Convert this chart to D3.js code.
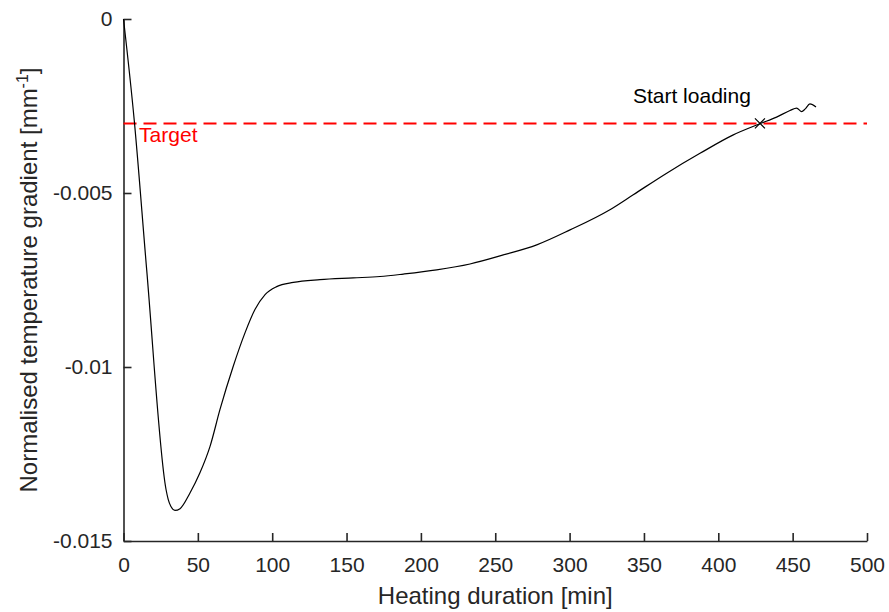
<!DOCTYPE html>
<html>
<head>
<meta charset="utf-8">
<script src="https://cdn.jsdelivr.net/npm/d3@7"></script>
<style>
    body { margin: 0; background: #fff; }
    svg { display: block; font-family: "Liberation Sans", Arial, Helvetica, sans-serif; }
</style>
</head>
<body>
<div id="chart"></div>
<script>
// heating curve
const durations = [
    0, 7.2, 15.6, 28.6, 30.1, 31.9, 34.6, 38.0, 44.7, 51.4, 58.2, 64.9,
    73.8, 81.7, 88.4, 95.2, 103.0, 114.2, 132.1, 154.5, 172.5, 188.2, 210.6,
    233.0, 255.4, 277.9, 300.3, 327.1, 342.8, 365.3, 387.7, 410.1, 428.0,
    439.2, 448.2, 452.7, 456.1, 458.3, 461.6, 465.7
];
const gradients = [
    0, -0.00290, -0.00721, -0.01352, -0.01381, -0.01401, -0.01412, -0.01407,
    -0.01362, -0.01304, -0.01228, -0.01122, -0.00998, -0.00902, -0.00835,
    -0.00792, -0.00769, -0.00757, -0.00749, -0.00744, -0.00740, -0.00733,
    -0.00721, -0.00704, -0.00678, -0.00649, -0.00606, -0.00548, -0.00505,
    -0.00443, -0.00386, -0.00333, -0.00301, -0.00282, -0.00263, -0.00256,
    -0.00266, -0.00259, -0.00244, -0.00253
];
const target = -0.003;
const loadingPoint = [428.0, -0.003];

const xTicks = [0, 50, 100, 150, 200, 250, 300, 350, 400, 450, 500];
const yTicks = [-0.015, -0.01, -0.005, 0];
const yTickLabels = ["-0.015", "-0.01", "-0.005", "0"];

const width = 889;
const height = 612;
const margin = { top: 19, right: 22, bottom: 71, left: 123.5 };
const innerWidth = width - margin.left - margin.right;
const innerHeight = height - margin.top - margin.bottom;
const axisColor = "#262626";

const svg = d3.select("#chart")
    .append("svg")
    .attr("width", width)
    .attr("height", height);

const graph = svg.append("g")
    .attr("transform", "translate(" + margin.left + "," + margin.top + ")");

const x = d3.scaleLinear().domain([0, 500]).range([0, innerWidth]);
const y = d3.scaleLinear().domain([-0.015, 0]).range([innerHeight, 0]);

// axes, ticks pointing inwards like matlab
const xAxis = graph.append("g")
    .attr("transform", "translate(0," + innerHeight + ")")
    .call(d3.axisBottom(x).tickValues(xTicks).tickSizeInner(-8).tickSizeOuter(0).tickPadding(16));
const yAxis = graph.append("g")
    .call(d3.axisLeft(y).tickValues(yTicks).tickSizeInner(-8).tickSizeOuter(0).tickPadding(11)
        .tickFormat((d, i) => yTickLabels[i]));

[xAxis, yAxis].forEach(a => {
    a.select(".domain").attr("stroke", axisColor).attr("stroke-width", 1.6);
    a.selectAll(".tick line").attr("stroke", axisColor).attr("stroke-width", 1.6);
    a.selectAll(".tick text").attr("fill", axisColor).style("font-size", "21px");
});

// target line
graph.append("line")
    .attr("x1", x(0))
    .attr("x2", x(500))
    .attr("y1", y(target))
    .attr("y2", y(target))
    .attr("stroke", "#ff0000")
    .attr("stroke-width", 2)
    .attr("stroke-dasharray", "13,7");

graph.append("text")
    .attr("x", x(10.5))
    .attr("y", y(-0.00353))
    .attr("fill", "#ff0000")
    .style("font-size", "21px")
    .text("Target");

// curve
const pts = durations.map((d, i) => [d, gradients[i]]);
graph.append("path")
    .datum(pts)
    .attr("fill", "none")
    .attr("stroke", "#000")
    .attr("stroke-width", 1.2)
    .attr("d", d3.line().x(d => x(d[0])).y(d => y(d[1])).curve(d3.curveMonotoneX));

// start loading marker
const mx = x(loadingPoint[0]);
const my = y(loadingPoint[1]);
graph.append("path")
    .attr("d", `M${mx - 5},${my - 5}L${mx + 5},${my + 5}M${mx - 5},${my + 5}L${mx + 5},${my - 5}`)
    .attr("stroke", "#000")
    .attr("stroke-width", 1.2);

graph.append("text")
    .attr("x", x(342.6))
    .attr("y", y(-0.00241))
    .attr("fill", "#000")
    .style("font-size", "21px")
    .text("Start loading");

// axis labels
svg.append("text")
    .attr("x", margin.left + innerWidth / 2)
    .attr("y", 604)
    .attr("text-anchor", "middle")
    .attr("fill", axisColor)
    .style("font-size", "24px")
    .text("Heating duration [min]");

const yl = svg.append("text")
    .attr("transform", "translate(37," + (margin.top + innerHeight / 2) + ") rotate(-90)")
    .attr("text-anchor", "middle")
    .attr("fill", axisColor)
    .style("font-size", "24px");
yl.append("tspan").text("Normalised temperature gradient [mm");
yl.append("tspan").attr("dy", -9).style("font-size", "16px").text("-1");
yl.append("tspan").attr("dy", 9).text("]");
</script>
</body>
</html>
